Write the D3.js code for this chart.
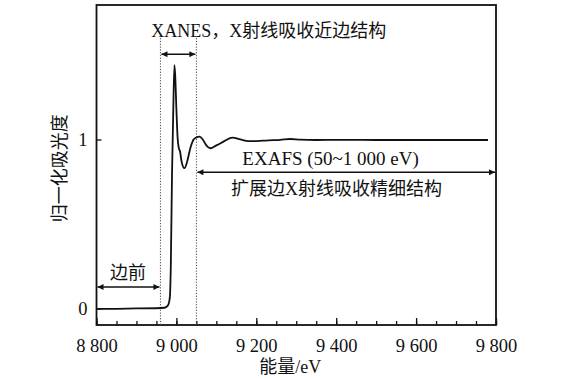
<!DOCTYPE html>
<html>
<head>
<meta charset="utf-8">
<script src="https://cdn.jsdelivr.net/npm/d3@7"></script>
<style>
  body { margin: 0; background: #fff; }
  text { font-family: "Liberation Serif", "Noto Sans CJK SC", serif; fill: #111; }
</style>
</head>
<body>
<div id="chart"></div>
<script>
// energy (eV) and normalised absorbance
var energy = [8800, 8850, 8900, 8950, 8970, 8978, 8982, 8984, 8986, 8989, 8992, 8995, 8997, 9000, 9003, 9006, 9009,
  9013, 9020, 9027, 9035, 9043, 9050, 9058, 9066, 9075, 9085, 9100, 9120, 9140, 9160, 9180, 9200, 9230,
  9260, 9285, 9310, 9350, 9400, 9500, 9600, 9700, 9780];
var absorb = [-0.003, -0.002, 0, 0.001, 0.004, 0.015, 0.04, 0.08, 0.25, 0.79, 1.15, 1.44, 1.38, 1.18, 1.01, 0.95, 0.93,
  0.87, 0.83, 0.87, 0.95, 1.0, 1.012, 1.017, 1.0, 0.965, 0.948, 0.965, 0.99, 1.011, 1.0, 0.99, 0.99, 0.995,
  0.998, 1.003, 0.999, 0.997, 0.998, 0.997, 0.997, 0.997, 0.997];

var xTicks = [8800, 9000, 9200, 9400, 9600, 9800];
var xMinor = d3.range(8800, 9801, 50);
var yTicks = [0, 1];
var edgeLines = [8960, 9050];

var svgWidth = 575;
var svgHeight = 380;
var margin = { top: 5, right: 79, bottom: 55, left: 96.5 };
var width = svgWidth - margin.left - margin.right;
var height = svgHeight - margin.top - margin.bottom;

var svg = d3.select("#chart")
  .append("svg")
  .attr("width", svgWidth)
  .attr("height", svgHeight);

var defs = svg.append("defs");
defs.append("marker")
  .attr("id", "head")
  .attr("viewBox", "0 0 10 10")
  .attr("refX", 10).attr("refY", 5)
  .attr("markerWidth", 9).attr("markerHeight", 6)
  .attr("markerUnits", "userSpaceOnUse")
  .attr("orient", "auto-start-reverse")
  .append("path")
  .attr("d", "M0,0L10,5L0,10z")
  .attr("fill", "#111");

var chartGroup = svg.append("g")
  .attr("transform", `translate(${margin.left}, ${margin.top})`);

var x = d3.scaleLinear().domain([8800, 9800]).range([0, width]);
var y = d3.scaleLinear().domain([-0.098, 1.796]).range([height, 0]);

var fmt = function(d) { return d3.format(",")(d).replace(",", " "); };

// minor ticks (inward)
chartGroup.append("g")
  .attr("transform", `translate(0, ${height})`)
  .call(d3.axisBottom(x).tickValues(xMinor).tickSize(-4).tickFormat(""))
  .call(g => g.select(".domain").remove())
  .selectAll("line").attr("stroke", "#111").attr("stroke-width", 1.3);

// major ticks with labels
var xAxis = chartGroup.append("g")
  .attr("transform", `translate(0, ${height})`)
  .call(d3.axisBottom(x).tickValues(xTicks).tickSize(-7).tickPadding(14).tickFormat(fmt));
xAxis.select(".domain").remove();
xAxis.selectAll("line").attr("stroke", "#111").attr("stroke-width", 1.3);
xAxis.selectAll("text").attr("font-size", 18.5).attr("font-family", "Liberation Serif").attr("fill", "#111");

var yAxis = chartGroup.append("g")
  .call(d3.axisLeft(y).tickValues(yTicks).tickSize(-5).tickPadding(9).tickFormat(d3.format("d")));
yAxis.select(".domain").remove();
yAxis.selectAll("line").attr("stroke", "#111").attr("stroke-width", 1.3);
yAxis.selectAll("text").attr("font-size", 18.5).attr("font-family", "Liberation Serif").attr("fill", "#111");

// frame
chartGroup.append("rect")
  .attr("width", width).attr("height", height)
  .attr("fill", "none").attr("stroke", "#111").attr("stroke-width", 1.8);

// dotted edge lines
chartGroup.selectAll(".edge")
  .data(edgeLines)
  .enter()
  .append("line")
  .attr("class", "edge")
  .attr("x1", d => x(d)).attr("x2", d => x(d))
  .attr("y1", y(1.6)).attr("y2", height)
  .attr("stroke", "#444").attr("stroke-width", 1)
  .attr("stroke-dasharray", "1.2,1.6");

// spectrum
var pts = energy.map((e, i) => [e, absorb[i]]);
chartGroup.append("path")
  .datum(pts)
  .attr("fill", "none")
  .attr("stroke", "#111")
  .attr("stroke-width", 1.8)
  .attr("stroke-linejoin", "round")
  .attr("d", d3.line().x(d => x(d[0])).y(d => y(d[1])).curve(d3.curveMonotoneX));

// arrows
var arrows = [
  { x0: 8960, x1: 9050, v: 1.505 },
  { x0: 9050, x1: 9800, v: 0.806 },
  { x0: 8800, x1: 8960, v: 0.127 }
];
chartGroup.selectAll(".arrow")
  .data(arrows)
  .enter()
  .append("line")
  .attr("class", "arrow")
  .attr("x1", d => x(d.x0) + 1).attr("x2", d => x(d.x1) - 1)
  .attr("y1", d => y(d.v)).attr("y2", d => y(d.v))
  .attr("stroke", "#111").attr("stroke-width", 1.5)
  .attr("marker-start", "url(#head)")
  .attr("marker-end", "url(#head)");

// annotation text
var notes = [
  { t: "XANES，X射线吸收近边结构", e: 9231, v: 1.607, s: 18 },
  { t: "EXAFS (50~1 000 eV)", e: 9386, v: 0.849, s: 19 },
  { t: "扩展边X射线吸收精细结构", e: 9401, v: 0.672, s: 18 },
  { t: "边前", e: 8879, v: 0.175, s: 18 }
];
chartGroup.selectAll(".note")
  .data(notes)
  .enter()
  .append("text")
  .attr("class", "note")
  .attr("x", d => x(d.e))
  .attr("y", d => y(d.v))
  .attr("text-anchor", "middle")
  .attr("font-size", d => d.s)
  .text(d => d.t);

// axis titles
chartGroup.append("text")
  .attr("transform", "rotate(-90)")
  .attr("x", -(y(0.83)))
  .attr("y", -margin.left + 66)
  .attr("text-anchor", "middle")
  .attr("font-size", 18)
  .text("归一化吸光度");

chartGroup.append("text")
  .attr("x", x(9285))
  .attr("y", height + 48)
  .attr("text-anchor", "middle")
  .attr("font-size", 18)
  .text("能量/eV");
</script>
</body>
</html>
